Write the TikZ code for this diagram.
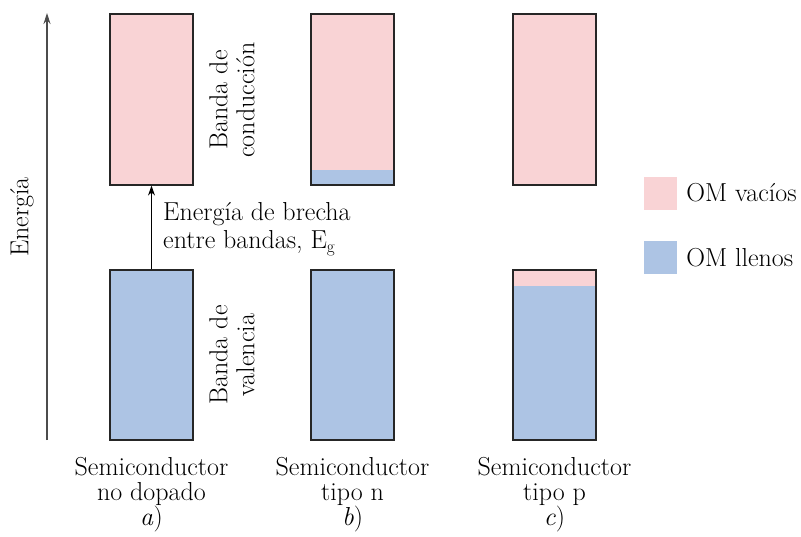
\documentclass[tikz,border=0pt]{standalone}
\usepackage{tikz}
\usetikzlibrary{arrows.meta}

\definecolor{emptyom}{RGB}{249,211,213}
\definecolor{filledom}{RGB}{173,196,228}

\tikzset{
  band/.style={draw=black!85, line width=1.2pt, rectangle, minimum width=83pt, inner sep=0pt},
  upper/.style={band, fill=emptyom, minimum height=171pt},
  lower/.style={band, fill=filledom, minimum height=170pt},
  key/.style={rectangle, minimum width=33pt, minimum height=33pt, inner sep=0pt},
  lbl/.style={font=\fontsize{26}{25}\selectfont, align=center, inner sep=0pt}
}

\begin{document}
\begin{tikzpicture}[x=1pt, y=-1pt]
            \useasboundingbox (0,0) rectangle (801,536);

            % Energy axis
            \coordinate (axbot) at (47,440);
            \coordinate (axtop) at (47,13);
            \draw[black!70, line width=1.1pt, -{Stealth[length=11pt, width=7pt]}] (axbot) -- (axtop);
            \node[lbl, rotate=90] (energia) at (22,217) {Energía};

            % Undoped semiconductor
            \node[upper] (ca) at (151.5,99.5) {};
            \node[lower] (va) at (151.5,355) {};

            % n-type semiconductor
            \node[upper, path picture={\fill[filledom] (path picture bounding box.south west) rectangle ([yshift=15.5pt]path picture bounding box.south east);}] (cb) at (352.5,99.5) {};
            \node[lower] (vb) at (352.5,355) {};

            % p-type semiconductor
            \node[upper] (cc) at (554.5,99.5) {};
            \node[lower, path picture={\fill[emptyom] (path picture bounding box.north west) rectangle ([yshift=-16pt]path picture bounding box.north east);}] (vc) at (554.5,355) {};

            % Band labels
            \node[lbl, rotate=90] (conduccion) at (232,100) {Banda de\\[2pt]conducción};
            \node[lbl, rotate=90] (valencia) at (232,355) {Banda de\\[2pt]valencia};

            % Band gap
            \draw[line width=1.1pt, -{Stealth[length=10pt, width=7pt]}] (va.north) -- (ca.south);
            \node[lbl, align=left, anchor=west] (gap) at (163,229) {Energía de brecha\\[3pt]entre bandas, E$_\mathrm{g}$};

            % Captions
            \node[lbl] (capa) at (151.5,495) {Semiconductor\\no dopado\\\textit{a})};
            \node[lbl] (capb) at (352.5,495) {Semiconductor\\tipo n\\\textit{b})};
            \node[lbl] (capc) at (554.5,495) {Semiconductor\\tipo p\\\textit{c})};

            % Legend
            \node[key, fill=emptyom] (keyempty) at (660.5,193) {};
            \node[key, fill=filledom] (keyfilled) at (660.5,257.5) {};
            \node[lbl, anchor=west] (txtempty) at ([xshift=9pt]keyempty.east) {OM vacíos};
            \node[lbl, anchor=west] (txtfilled) at ([xshift=9pt]keyfilled.east) {OM llenos};
        \end{tikzpicture}
\end{document}
